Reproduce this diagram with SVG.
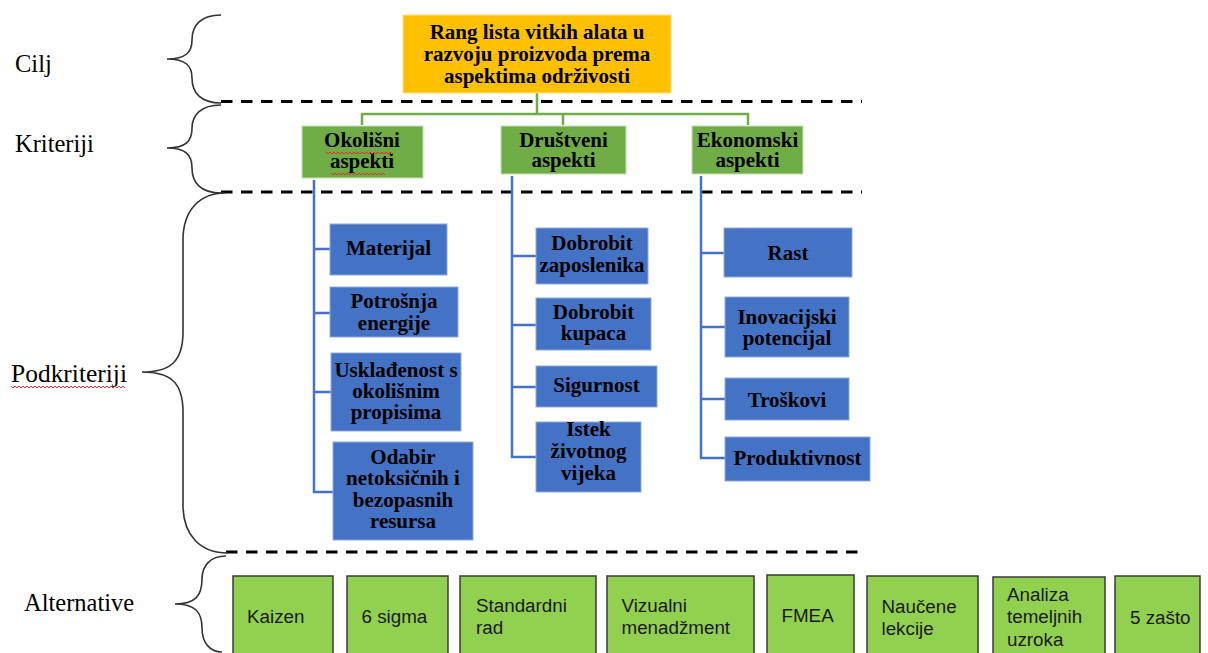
<svg xmlns="http://www.w3.org/2000/svg" width="1208" height="653" viewBox="0 0 1208 653">
<style>
.bg{fill:#ffffff}
.goal{fill:#FFC000;stroke:#FFE08A;stroke-width:1}
.crit{fill:#70AD47;stroke:#C5E0B4;stroke-width:1}
.sub{fill:#4472C4;stroke:#8FAADC;stroke-width:1}
.alt{fill:#92D050;stroke:#3A3A3A;stroke-width:1.5}
.tb{font-family:"Liberation Serif","Times New Roman",serif;font-weight:bold;font-size:21px;fill:#000;text-anchor:middle}
.lbl{font-family:"Liberation Serif","Times New Roman",serif;font-size:24.5px;fill:#000}
.ts{font-family:"Liberation Sans",Arial,sans-serif;font-size:18.8px;fill:#1a1a1a}
.dash{stroke:#000;stroke-width:3;stroke-dasharray:11.5 8.5;fill:none}
.brace{stroke:#333;stroke-width:1.6;fill:none}
.gline{stroke:#70AD47;stroke-width:2.5;fill:none}
.bline{stroke:#4472C4;stroke-width:2.5;fill:none}
.squig{stroke:#E03030;stroke-width:1;fill:none}
</style>
<rect class="bg" x="0" y="0" width="1208" height="653"/>

<g id="levels">
  <line class="dash" x1="221" y1="101.5" x2="862" y2="101.5"/>
  <line class="dash" x1="221" y1="192" x2="862" y2="192"/>
  <line class="dash" x1="226" y1="552" x2="862" y2="552"/>
  <path class="brace" d="M221,15 C201,15 192,25 192,40 C192,52 186,59 167,59 C186,59 192,66 192,78 C192,93 201,103 221,103"/>
  <path class="brace" d="M221,105 C201,105 192,115 192,128 C192,141 186,148 167,148 C186,148 192,155 192,168 C192,183 201,193 221,193"/>
  <path class="brace" d="M225,193 C200,193 183,210 183,240 L183,332 C183,362 170,372 142,372 C170,372 183,382 183,412 L183,505 C183,535 200,553 228,553"/>
  <path class="brace" d="M226,556 C210,556 202,566 202,579 C202,596 195,604 175,604 C195,604 202,612 202,628 C202,643 210,652 222,652"/>
  <text class="lbl" x="15" y="72">Cilj</text>
  <text class="lbl" x="15" y="151.5">Kriteriji</text>
  <text class="lbl" x="11" y="381.5" textLength="116" lengthAdjust="spacingAndGlyphs">Podkriteriji</text>
  <path class="squig" d="M11,386 l2,2 l2,-2 l2,2 l2,-2 l2,2 l2,-2 l2,2 l2,-2 l2,2 l2,-2 l2,2 l2,-2 l2,2 l2,-2 l2,2 l2,-2 l2,2 l2,-2 l2,2 l2,-2 l2,2 l2,-2 l2,2 l2,-2 l2,2 l2,-2 l2,2 l2,-2 l2,2 l2,-2 l2,2 l2,-2 l2,2 l2,-2 l2,2 l2,-2 l2,2 l2,-2 l2,2 l2,-2 l2,2 l2,-2 l2,2 l2,-2 l2,2 l2,-2 l2,2 l2,-2 l2,2 l2,-2 l2,2 l2,-2 l2,2 l2,-2 l2,2 l2,-2 l2,2"/>
  <text class="lbl" x="24" y="611">Alternative</text>
</g>

<g id="connectors">
  <path class="gline" d="M537,93 V114 M362,125 V114 H748 V125 M563,114 V125"/>
  <path class="bline" d="M314,180 V492 H333 M314,249 H330 M314,313 H330 M314,392 H331"/>
  <path class="bline" d="M512,176 V457 H536 M512,256 H536 M512,325 H536 M512,387 H536"/>
  <path class="bline" d="M701,176 V458 H725 M701,253 H724 M701,327 H725 M701,399 H725"/>
</g>

<g id="goal">
  <rect class="goal" x="403" y="15" width="268" height="78"/>
  <text class="tb" x="537" y="39">Rang lista vitkih alata u</text>
  <text class="tb" x="537" y="61">razvoju proizvoda prema</text>
  <text class="tb" x="537" y="83">aspektima održivosti</text>
</g>

<g id="crit-okolisni">
  <rect class="crit" x="302" y="126" width="121" height="52"/>
  <text class="tb" x="362" y="147">Okolišni</text>
  <text class="tb" x="362" y="168">aspekti</text>
  <path class="squig" d="M326,152 l2,2 l2,-2 l2,2 l2,-2 l2,2 l2,-2 l2,2 l2,-2 l2,2 l2,-2 l2,2 l2,-2 l2,2 l2,-2 l2,2 l2,-2 l2,2 l2,-2 l2,2 l2,-2 l2,2 l2,-2 l2,2 l2,-2 l2,2 l2,-2 l2,2 l2,-2 l2,2 l2,-2 l2,2 l2,-2 l2,2"/>
  <path class="squig" d="M331,173 l2,2 l2,-2 l2,2 l2,-2 l2,2 l2,-2 l2,2 l2,-2 l2,2 l2,-2 l2,2 l2,-2 l2,2 l2,-2 l2,2 l2,-2 l2,2 l2,-2 l2,2 l2,-2 l2,2 l2,-2 l2,2 l2,-2 l2,2 l2,-2 l2,2"/>
</g>
<g id="crit-drustveni">
  <rect class="crit" x="501" y="126" width="125" height="48"/>
  <text class="tb" x="563.5" y="147">Društveni</text>
  <text class="tb" x="563.5" y="167">aspekti</text>
</g>
<g id="crit-ekonomski">
  <rect class="crit" x="692" y="126" width="111" height="48"/>
  <text class="tb" x="747.5" y="147">Ekonomski</text>
  <text class="tb" x="747.5" y="167">aspekti</text>
</g>

<g id="sub-materijal">
  <rect class="sub" x="330" y="224" width="117" height="51"/>
  <text class="tb" x="388.5" y="255">Materijal</text>
</g>
<g id="sub-potrosnja">
  <rect class="sub" x="330" y="287" width="128" height="50"/>
  <text class="tb" x="394" y="308">Potrošnja</text>
  <text class="tb" x="394" y="329.5">energije</text>
</g>
<g id="sub-uskladenost">
  <rect class="sub" x="331" y="353" width="130" height="78"/>
  <text class="tb" x="396" y="377">Usklađenost s</text>
  <text class="tb" x="396" y="398">okolišnim</text>
  <text class="tb" x="396" y="419">propisima</text>
</g>
<g id="sub-odabir">
  <rect class="sub" x="333" y="442" width="140" height="98"/>
  <text class="tb" x="403" y="463.5">Odabir</text>
  <text class="tb" x="403" y="485">netoksičnih i</text>
  <text class="tb" x="403" y="506.5">bezopasnih</text>
  <text class="tb" x="403" y="528">resursa</text>
</g>

<g id="sub-zaposlenici">
  <rect class="sub" x="536" y="228" width="112" height="56"/>
  <text class="tb" x="592" y="250">Dobrobit</text>
  <text class="tb" x="592" y="272">zaposlenika</text>
</g>
<g id="sub-kupci">
  <rect class="sub" x="536" y="298" width="115" height="52"/>
  <text class="tb" x="593.5" y="318.5">Dobrobit</text>
  <text class="tb" x="593.5" y="340">kupaca</text>
</g>
<g id="sub-sigurnost">
  <rect class="sub" x="536" y="366" width="121" height="41"/>
  <text class="tb" x="596.5" y="392">Sigurnost</text>
</g>
<g id="sub-istek">
  <rect class="sub" x="536" y="422" width="105" height="70"/>
  <text class="tb" x="588.5" y="436">Istek</text>
  <text class="tb" x="588.5" y="458">životnog</text>
  <text class="tb" x="588.5" y="480">vijeka</text>
</g>

<g id="sub-rast">
  <rect class="sub" x="724" y="228" width="128" height="49"/>
  <text class="tb" x="788" y="260">Rast</text>
</g>
<g id="sub-inovacije">
  <rect class="sub" x="725" y="297" width="124" height="60"/>
  <text class="tb" x="787" y="323.5">Inovacijski</text>
  <text class="tb" x="787" y="345">potencijal</text>
</g>
<g id="sub-troskovi">
  <rect class="sub" x="725" y="378" width="124" height="42"/>
  <text class="tb" x="787" y="406.5">Troškovi</text>
</g>
<g id="sub-produktivnost">
  <rect class="sub" x="725" y="437" width="145" height="44"/>
  <text class="tb" x="797.5" y="465">Produktivnost</text>
</g>

<g id="alt-kaizen">
  <rect class="alt" x="233" y="576" width="100" height="90"/>
  <text class="ts" x="247" y="623">Kaizen</text>
</g>
<g id="alt-6sigma">
  <rect class="alt" x="347" y="576" width="101" height="90"/>
  <text class="ts" x="361.5" y="623">6 sigma</text>
</g>
<g id="alt-standardni">
  <rect class="alt" x="460" y="576" width="136" height="90"/>
  <text class="ts" x="476" y="611.5">Standardni</text>
  <text class="ts" x="476" y="634">rad</text>
</g>
<g id="alt-vizualni">
  <rect class="alt" x="607" y="576" width="147" height="90"/>
  <text class="ts" x="621.5" y="611.5">Vizualni</text>
  <text class="ts" x="621.5" y="634">menadžment</text>
</g>
<g id="alt-fmea">
  <rect class="alt" x="767" y="575" width="87" height="90"/>
  <text class="ts" x="781.5" y="622">FMEA</text>
</g>
<g id="alt-naucene">
  <rect class="alt" x="867" y="576" width="111" height="90"/>
  <text class="ts" x="881.5" y="612.5">Naučene</text>
  <text class="ts" x="881.5" y="634.5">lekcije</text>
</g>
<g id="alt-analiza">
  <rect class="alt" x="993" y="577" width="112" height="90"/>
  <text class="ts" x="1007" y="600.5">Analiza</text>
  <text class="ts" x="1007" y="623">temeljnih</text>
  <text class="ts" x="1007" y="645.5">uzroka</text>
</g>
<g id="alt-5zasto">
  <rect class="alt" x="1115" y="576" width="85" height="90"/>
  <text class="ts" x="1130" y="624">5 zašto</text>
</g>
</svg>
